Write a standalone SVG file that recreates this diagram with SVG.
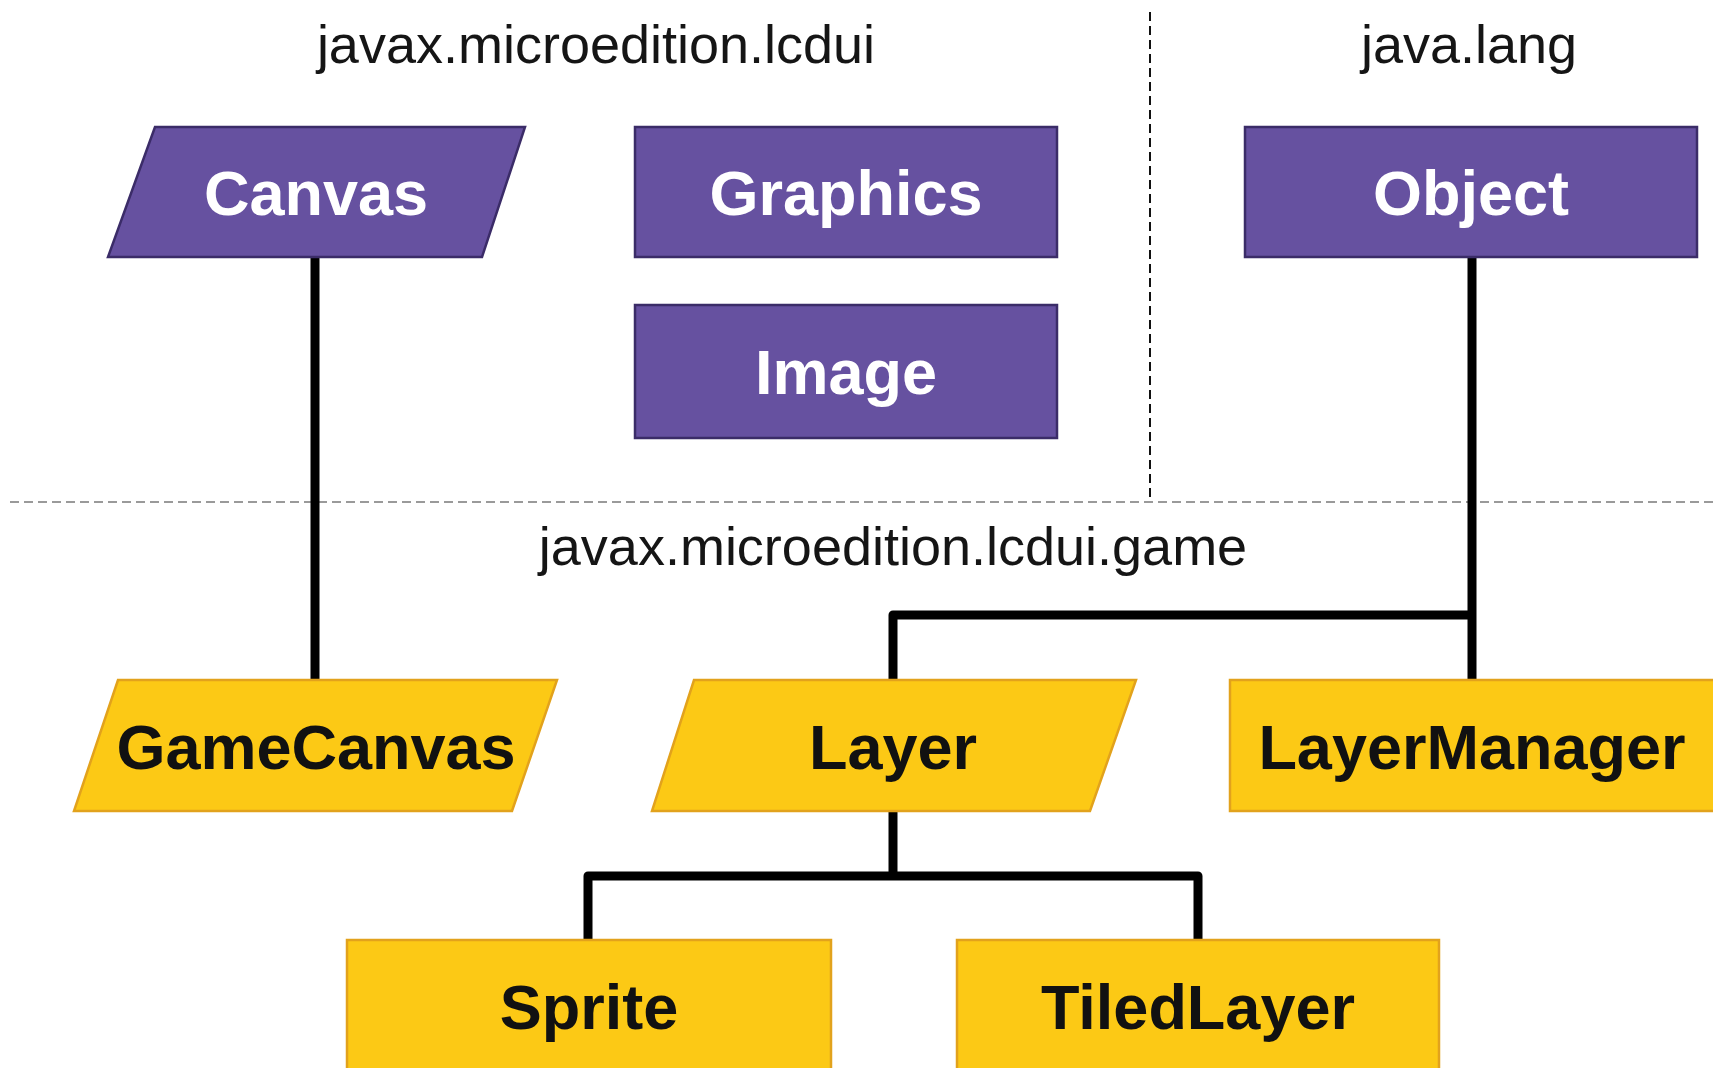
<svg xmlns="http://www.w3.org/2000/svg" width="1713" height="1068" viewBox="0 0 1713 1068">
<style>
.pkg{font-family:"Liberation Sans",Arial,sans-serif;font-size:54px;fill:#151515;text-anchor:middle}
.lbl{font-family:"Liberation Sans",Arial,sans-serif;font-size:63px;font-weight:bold;text-anchor:middle}
.p{fill:#6651a0;stroke:#3b2c68;stroke-width:2.5}
.y{fill:#fcc915;stroke:#e2a21c;stroke-width:2.5}
.pt{fill:#ffffff}
.yt{fill:#111111}
.c{fill:none;stroke:#000;stroke-width:9;stroke-linejoin:round}
</style>
<rect width="1713" height="1068" fill="#ffffff"/>
<g id="separators">
<line x1="10" y1="502" x2="1713" y2="502" stroke="#9a9a9a" stroke-width="2" stroke-dasharray="9 5"/>
<line x1="1150" y1="12" x2="1150" y2="500" stroke="#111" stroke-width="2" stroke-dasharray="9 5"/>
</g>
<g id="titles">
<text class="pkg" x="596" y="63">javax.microedition.lcdui</text>
<text class="pkg" x="1469" y="63">java.lang</text>
<text class="pkg" x="893" y="565">javax.microedition.lcdui.game</text>
</g>
<g id="connectors">
<path class="c" d="M315,257 V680"/>
<path class="c" d="M1472,257 V680"/>
<path class="c" d="M893,680 V615 H1472"/>
<path class="c" d="M893,811 V876"/>
<path class="c" d="M588,940 V876 H1198 V940"/>
</g>
<g id="Canvas">
<polygon class="p" points="155,127 525,127 482,257 108,257"/>
<text class="lbl pt" x="316" y="215">Canvas</text>
</g>
<g id="Graphics">
<rect class="p" x="635" y="127" width="422" height="130"/>
<text class="lbl pt" x="846" y="215">Graphics</text>
</g>
<g id="Image">
<rect class="p" x="635" y="305" width="422" height="133"/>
<text class="lbl pt" x="846" y="394">Image</text>
</g>
<g id="Object">
<rect class="p" x="1245" y="127" width="452" height="130"/>
<text class="lbl pt" x="1471" y="215">Object</text>
</g>
<g id="GameCanvas">
<polygon class="y" points="118,680 557,680 512,811 74,811"/>
<text class="lbl yt" x="316" y="769">GameCanvas</text>
</g>
<g id="Layer">
<polygon class="y" points="694,680 1136,680 1090,811 652,811"/>
<text class="lbl yt" x="893" y="769">Layer</text>
</g>
<g id="LayerManager">
<rect class="y" x="1230" y="680" width="486" height="131"/>
<text class="lbl yt" x="1472" y="769">LayerManager</text>
</g>
<g id="Sprite">
<rect class="y" x="347" y="940" width="484" height="140"/>
<text class="lbl yt" x="589" y="1029">Sprite</text>
</g>
<g id="TiledLayer">
<rect class="y" x="957" y="940" width="482" height="140"/>
<text class="lbl yt" x="1198" y="1029">TiledLayer</text>
</g>
</svg>
